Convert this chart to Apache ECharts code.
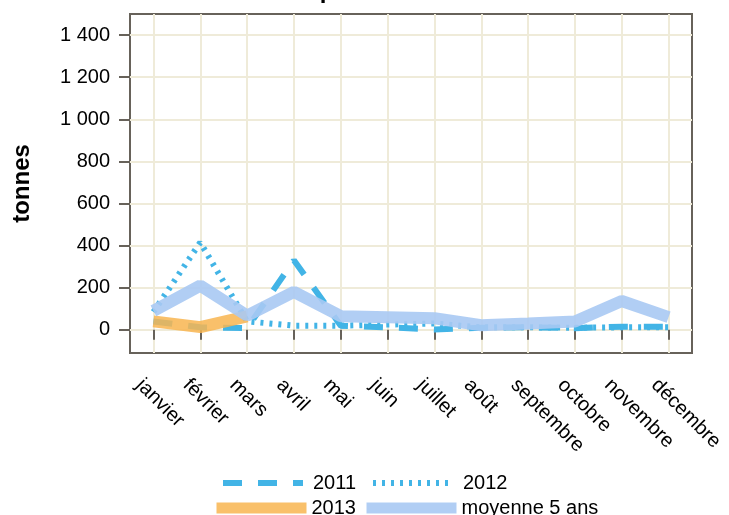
<!DOCTYPE html>
<html>
<head>
<meta charset="utf-8">
<script src="https://cdn.jsdelivr.net/npm/echarts@6/dist/echarts.min.js"></script>
<style>
  html, body { margin: 0; padding: 0; background: #fff; }
  #chart { width: 729px; height: 515px; }
</style>
</head>
<body>
<div id="chart"></div>
<script>
// mois
var months = ['janvier', 'février', 'mars', 'avril', 'mai', 'juin', 'juillet', 'août', 'septembre', 'octobre', 'novembre', 'décembre'];
// tonnes par mois
var serie2011 = [40, 12, 8, 330, 20, 12, 2, 10, 12, 8, 15, 15];
var serie2012 = [85, 415, 40, 20, 20, 25, 30, 12, 12, 10, 12, 12];
var serie2013 = [40, 13, 64];
var moyenne5 = [90, 210, 68, 180, 65, 60, 55, 22, 30, 40, 137, 60];
// graduations de l'axe vertical
var yTicks = [0, 200, 400, 600, 800, 1000, 1200, 1400];

var font = 'Liberation Sans';
var frameColor = '#67625a';
var gridColor = '#efebd9';
var blue = '#42b4e6';

function legendFor(name, left, top, w, lineStyle, gap) {
  return {
    data: [name],
    left: left, top: top,
    itemWidth: w, itemHeight: 14,
    selectedMode: false,
    itemStyle: { opacity: 0 },
    lineStyle: lineStyle,
    textStyle: { fontFamily: font, fontSize: 20, color: '#000', padding: [0, 0, 0, gap] }
  };
}

var chart = echarts.init(document.getElementById('chart'));
var option = {
  animation: false,
  title: {
    text: 'Importations',
    left: 'center', top: -26,
    textStyle: { fontFamily: font, fontSize: 24, fontWeight: 'bold', color: '#000' }
  },
  legend: [
    legendFor('2011', 215, 468, 80, { width: 6, type: [19, 16], color: blue }, 5),
    legendFor('2012', 365, 468, 80, { width: 6, type: [3, 6], color: blue }, 5),
    legendFor('2013', 206, 493, 90, { width: 11, type: 'solid', color: '#f8b550' }, 0),
    legendFor('moyenne 5 ans', 356, 493, 90, { width: 11, type: 'solid', color: '#a9c9f3' }, 0)
  ],
  grid: {
    left: 130, right: 37, top: 14, bottom: 162,
    outerBoundsMode: 'none',
    containLabel: false,
    show: true, borderColor: frameColor, borderWidth: 2, backgroundColor: '#fff'
  },
  xAxis: {
    type: 'category',
    data: months,
    boundaryGap: true,
    axisLine: { show: false },
    axisTick: { show: true, alignWithLabel: true, length: 10, lineStyle: { color: frameColor, width: 2 } },
    splitLine: { show: true, alignWithLabel: true, lineStyle: { color: gridColor, width: 2 } },
    axisLabel: {
      rotate: -45, margin: 15, align: 'left', verticalAlign: 'top', padding: [10, 0, 0, 0],
      fontFamily: font, fontSize: 20, color: '#000', interval: 0
    }
  },
  yAxis: {
    type: 'value',
    min: -110, max: 1500,
    name: 'tonnes',
    nameLocation: 'middle',
    nameGap: 96,
    nameTextStyle: { fontFamily: font, fontSize: 24, fontWeight: 'bold', color: '#000' },
    axisLine: { show: false },
    axisTick: { show: true, length: 11, customValues: yTicks, lineStyle: { color: frameColor, width: 2 } },
    splitLine: { show: true, lineStyle: { color: gridColor, width: 2 } },
    axisLabel: {
      customValues: yTicks, margin: 20,
      fontFamily: font, fontSize: 20, color: '#000',
      formatter: function (v) { return String(v).replace(/\B(?=(\d{3})+(?!\d))/g, ' '); }
    }
  },
  series: [
    { name: '2011', type: 'line', data: serie2011, symbol: 'none',
      lineStyle: { color: blue, width: 6, type: [19, 16] }, itemStyle: { color: blue } },
    { name: '2012', type: 'line', data: serie2012, symbol: 'none',
      lineStyle: { color: blue, width: 6, type: [3, 6] }, itemStyle: { color: blue } },
    { name: '2013', type: 'line', data: serie2013, symbol: 'none',
      lineStyle: { color: '#f8b550', width: 12, opacity: 0.85 }, itemStyle: { color: '#f8b550' } },
    { name: 'moyenne 5 ans', type: 'line', data: moyenne5, symbol: 'none',
      lineStyle: { color: '#a9c9f3', width: 12, opacity: 0.9 }, itemStyle: { color: '#a9c9f3' } }
  ]
};
chart.setOption(option);
</script>
</body>
</html>
